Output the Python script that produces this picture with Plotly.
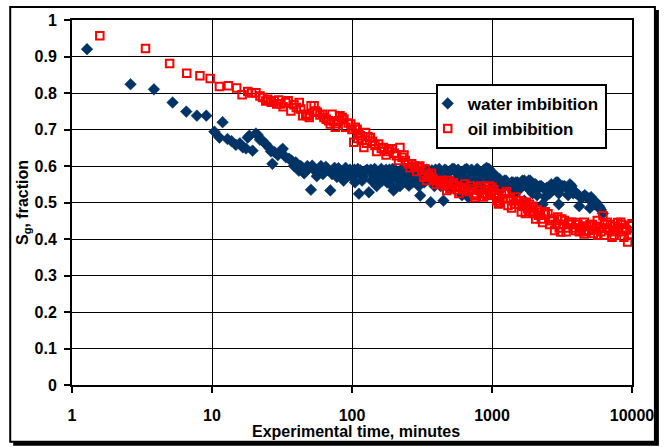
import plotly.graph_objects as go

# ---------------- data ----------------
water_t = [1.28, 2.62, 3.85, 5.23, 6.55, 7.8, 9.1, 10.4, 11.3, 11.9, 12.9, 13.8, 14.8, 15.8,
           16.6, 17.5, 18.0, 18.5, 19.5, 20.6, 21.2, 22.0, 23.0, 24.2, 25.6, 26.4, 27.0, 28.0,
           29.5, 31.0, 32.0, 33.7, 35.5, 37.0, 38.5, 39.7, 41.0, 41.8, 43.0, 44.0, 45.5, 46.7,
           48.0, 50.9, 52.0, 54.0, 56.0, 58.0, 60.0, 62.0, 65.0, 67.0, 70.0, 72.0, 75.0, 78.0,
           80.0, 84.0, 87.0, 90.0, 94.0, 97.0, 100, 104, 108, 112, 115, 120, 125, 132, 136, 142,
           148, 155, 162, 170, 178, 185, 192, 198, 205, 215, 225, 235, 245, 255, 265, 275, 285,
           295, 307, 320, 335, 350, 365, 380, 395, 410, 430, 450, 470, 490, 510, 535, 560, 585,
           610, 640, 680, 700, 730, 770, 800, 840, 880, 915, 1000, 1050, 1100, 1150, 1230, 1300,
           1380, 1450, 1520, 1600, 1700, 1800, 1870, 1950, 2050, 2150, 2250, 2400, 2500, 2650,
           2750, 2870, 3000, 3200, 3400, 3600, 3800, 4000, 4300, 4600, 4900, 5100, 5400, 5700,
           5900, 6200,
           105, 110, 118, 128, 138, 145, 150, 158, 165, 175, 182, 188, 195, 210, 220, 230, 240,
           250, 260, 270, 280, 290, 300, 315, 328, 342, 358, 372, 388, 402, 420, 440, 460, 480,
           500, 520, 548, 572, 598, 625, 660, 690, 715, 750, 785, 820, 860, 900, 950, 980,
           1020, 1080, 1130, 1190, 1260, 1340, 1410, 1480, 1560, 1650, 1750, 1830, 1900, 2000,
           2100, 2200, 2320, 2450, 2580, 2700, 2820, 2950, 3100, 3300, 3500, 3700, 3900, 4150,
           4450, 4750, 5000, 5250, 5550, 5800, 6000, 1700, 2300, 3000, 4200, 5000]
water_sg = [0.920, 0.824, 0.810, 0.774, 0.749, 0.738, 0.738, 0.694, 0.678, 0.720, 0.674, 0.668,
            0.658, 0.662, 0.651, 0.648, 0.678, 0.683, 0.642, 0.689, 0.685, 0.672, 0.669, 0.660,
            0.650, 0.640, 0.606, 0.638, 0.630, 0.642, 0.647, 0.624, 0.620, 0.615, 0.600, 0.610,
            0.595, 0.587, 0.600, 0.596, 0.580, 0.585, 0.600, 0.535, 0.601, 0.588, 0.572, 0.587,
            0.600, 0.578, 0.598, 0.590, 0.533, 0.578, 0.595, 0.570, 0.594, 0.585, 0.560, 0.595,
            0.575, 0.590, 0.569, 0.590, 0.580, 0.524, 0.588, 0.570, 0.587, 0.528, 0.590, 0.575,
            0.588, 0.565, 0.592, 0.580, 0.555, 0.590, 0.570, 0.533, 0.588, 0.560, 0.590, 0.575,
            0.588, 0.546, 0.570, 0.592, 0.585, 0.560, 0.519, 0.588, 0.570, 0.588, 0.501, 0.560,
            0.590, 0.575, 0.545, 0.505, 0.588, 0.565, 0.540, 0.592, 0.580, 0.555, 0.520, 0.590,
            0.514, 0.570, 0.545, 0.588, 0.575, 0.540, 0.590, 0.595, 0.575, 0.550, 0.560, 0.535,
            0.560, 0.550, 0.555, 0.525, 0.555, 0.545, 0.560, 0.540, 0.560, 0.525, 0.550, 0.540,
            0.545, 0.515, 0.540, 0.550, 0.535, 0.555, 0.525, 0.545, 0.540, 0.550, 0.525, 0.525,
            0.515, 0.520, 0.510, 0.515, 0.495, 0.490, 0.485, 0.470,
            0.555, 0.592, 0.560, 0.590, 0.560, 0.592, 0.545, 0.585, 0.560, 0.590, 0.575, 0.550,
            0.592, 0.580, 0.545, 0.585, 0.560, 0.590, 0.580, 0.555, 0.575, 0.592, 0.545, 0.575,
            0.555, 0.590, 0.575, 0.588, 0.545, 0.585, 0.592, 0.565, 0.590, 0.545, 0.585, 0.592,
            0.560, 0.590, 0.575, 0.560, 0.592, 0.545, 0.590, 0.560, 0.592, 0.560, 0.585, 0.570,
            0.592, 0.560,
            0.580, 0.560, 0.565, 0.545, 0.560, 0.540, 0.555, 0.555, 0.535, 0.560, 0.545, 0.560,
            0.545, 0.550, 0.520, 0.545, 0.540, 0.540, 0.525, 0.545, 0.540, 0.555, 0.540, 0.545,
            0.520, 0.545, 0.530, 0.520, 0.515, 0.515, 0.510, 0.505, 0.500, 0.490, 0.480, 0.505,
            0.495, 0.495, 0.490, 0.485]

oil_t = [1.58, 3.35, 4.98, 6.6, 8.2, 9.7, 11.3, 13.1, 15.0, 16.4, 18.0, 19.2, 20.6, 22.0, 23.0,
         24.2, 25.0, 26.5, 27.8, 29.0, 30.0, 31.0, 32.2, 33.6, 35.0, 36.6, 38.5, 40.0, 42.0,
         43.0, 44.4, 46.7, 48.0, 49.5, 51.0, 53.6, 55.0, 56.5, 59.0, 61.5, 63.0, 65.5, 68.0,
         70.0, 72.0, 74.0, 76.0, 78.0, 80.0, 82.0, 85.0, 87.5, 90.0, 94.0, 98.0, 100, 103,
         105.5, 108.8, 112, 115, 118, 121.5, 125, 130, 135, 140, 146, 155, 162, 168, 180, 192,
         200, 208, 220, 228, 240, 252, 267, 280, 298, 315, 325, 333, 350, 362, 380, 392, 410,
         425, 440, 460, 475, 490, 515, 543, 565, 590, 615, 640, 680, 718, 740, 755, 790, 817,
         850, 890, 940, 990, 1000, 1050, 1100, 1110, 1170, 1230, 1300, 1350, 1420, 1480, 1540,
         1620, 1700, 1760, 1800, 1850, 1920, 2000, 2100, 2200, 2250, 2350, 2510, 2650, 2800,
         2950, 3100, 3200, 3300, 3450, 3600, 3700, 3950, 4100, 4300, 4550, 4560, 4750, 4900,
         5200, 5400, 5650, 5700, 5900, 6200, 6400, 6650, 6900, 7200, 7300, 7600, 7900, 8300,
         8600, 8900, 9300, 9500, 9700, 9900, 10000,
         110, 127, 150, 175, 185, 215, 235, 260, 290, 305, 340, 370, 400, 450, 500, 530, 580,
         630, 700, 770, 830, 870, 920, 960, 1030, 1080, 1140, 1200, 1270, 1380, 1450, 1580,
         1650, 1730, 1880, 1960, 2050, 2150, 2300, 2400, 2580, 2720, 2870, 3020, 3150, 3380,
         3520, 3800, 4000, 4200, 4450, 4650, 5000, 5300, 5550, 6000, 6300, 6550, 7000, 7450,
         8000, 8450, 8750, 9100]
oil_sg = [0.957, 0.922, 0.881, 0.854, 0.847, 0.840, 0.818, 0.820, 0.814, 0.795, 0.804, 0.800,
          0.801, 0.792, 0.788, 0.778, 0.783, 0.775, 0.779, 0.770, 0.781, 0.770, 0.762, 0.774,
          0.779, 0.751, 0.768, 0.760, 0.774, 0.756, 0.738, 0.742, 0.738, 0.733, 0.765, 0.765,
          0.751, 0.747, 0.740, 0.742, 0.733, 0.728, 0.724, 0.715, 0.742, 0.722, 0.706, 0.716,
          0.724, 0.738, 0.733, 0.729, 0.706, 0.718, 0.715, 0.700, 0.665, 0.706, 0.701, 0.690,
          0.683, 0.670, 0.651, 0.692, 0.680, 0.678, 0.668, 0.656, 0.660, 0.648, 0.651, 0.640,
          0.647, 0.635, 0.628, 0.651, 0.624, 0.615, 0.606, 0.606, 0.600, 0.596, 0.588, 0.569,
          0.592, 0.575, 0.569, 0.565, 0.560, 0.560, 0.555, 0.550, 0.545, 0.533, 0.560, 0.550,
          0.546, 0.535, 0.542, 0.540, 0.551, 0.530, 0.537, 0.525, 0.514, 0.540, 0.533, 0.525,
          0.524, 0.535, 0.528, 0.542, 0.520, 0.514, 0.496, 0.525, 0.524, 0.492, 0.510, 0.505,
          0.515, 0.496, 0.474, 0.500, 0.501, 0.483, 0.495, 0.487, 0.470, 0.480, 0.474, 0.455,
          0.468, 0.469, 0.450, 0.423, 0.460, 0.419, 0.440, 0.451, 0.430, 0.440, 0.446, 0.423,
          0.440, 0.430, 0.414, 0.446, 0.435, 0.423, 0.440, 0.425, 0.451, 0.410, 0.430, 0.464,
          0.440, 0.446, 0.425, 0.405, 0.420, 0.435, 0.445, 0.446, 0.420, 0.430, 0.392, 0.410,
          0.436, 0.410, 0.442,
          0.675, 0.662, 0.640, 0.630, 0.645, 0.615, 0.630, 0.595, 0.585, 0.600, 0.560, 0.580,
          0.550, 0.560, 0.538, 0.555, 0.525, 0.535, 0.545, 0.520, 0.545, 0.515, 0.520, 0.545,
          0.535, 0.505, 0.500, 0.510, 0.530, 0.485, 0.495, 0.505, 0.490, 0.470, 0.475, 0.490,
          0.455, 0.465, 0.445, 0.475, 0.440, 0.455, 0.440, 0.430, 0.455, 0.420, 0.445, 0.430,
          0.445, 0.420, 0.435, 0.420, 0.440, 0.415, 0.435, 0.420, 0.410, 0.430, 0.440, 0.410,
          0.430, 0.440, 0.405, 0.425]

x_tick_vals = [1, 10, 100, 1000, 10000]
x_tick_text = ["1", "10", "100", "1000", "10000"]
y_tick_vals = [0, 0.1, 0.2, 0.3, 0.4, 0.5, 0.6, 0.7, 0.8, 0.9, 1.0]
y_tick_text = ["0", "0.1", "0.2", "0.3", "0.4", "0.5", "0.6", "0.7", "0.8", "0.9", "1"]
x_title = "Experimental time, minutes"
y_title = "S<sub>g</sub>, fraction"

# ---------------- layout geometry ----------------
W, H = 666, 447
L, R, T, B = 72, 32, 19, 62
PW, PH = W - L - R, H - T - B

def px(xp):
    return (xp - L) / PW

def py(yp):
    return (H - B - yp) / PH

FONT = "Liberation Sans, Arial, sans-serif"
BLUE = "#003366"
RED = "#ff0000"

fig = go.Figure()
fig.add_trace(go.Scatter(
    x=water_t, y=water_sg, mode="markers", name="water imbibition",
    legendgroup="w",
    marker=dict(symbol="diamond", size=9, color=BLUE, line=dict(width=0.5, color=BLUE)),
))
fig.add_trace(go.Scatter(
    x=oil_t, y=oil_sg, mode="markers", name="oil imbibition",
    legendgroup="o",
    marker=dict(symbol="square-open", size=7.5, color=RED, line=dict(width=2, color=RED)),
))

shapes = [
    # outer frame shadow
    dict(type="rect", xref="paper", yref="paper", x0=px(13), x1=px(661), y0=py(446), y1=py(9),
         fillcolor="black", line=dict(width=0), layer="below"),
    # outer frame
    dict(type="rect", xref="paper", yref="paper", x0=px(10), x1=px(657), y0=py(442), y1=py(6),
         fillcolor="white", line=dict(width=2, color="black"), layer="below"),
    # legend shadow
    dict(type="rect", xref="paper", yref="paper", x0=px(440), x1=px(608), y0=py(142), y1=py(86),
         fillcolor="black", line=dict(width=0), layer="above"),
]

axis_common = dict(
    showline=True, linecolor="black", linewidth=2, mirror=True,
    showgrid=True, gridcolor="black", gridwidth=1,
    ticks="outside", ticklen=6, tickwidth=2, tickcolor="black",
    zeroline=False,
    tickfont=dict(family=FONT, size=16, color="black", weight="bold"),
)

fig.update_layout(
    width=W, height=H,
    margin=dict(l=L, r=R, t=T, b=B, pad=0),
    paper_bgcolor="white", plot_bgcolor="rgba(0,0,0,0)",
    showlegend=True,
    legend=dict(
        x=px(437), y=py(83), xanchor="left", yanchor="top",
        bgcolor="white", bordercolor="black", borderwidth=2,
        font=dict(family=FONT, size=17, color="black", weight="bold"),
        tracegroupgap=0, itemwidth=30, indentation=-10,
    ),
    shapes=shapes,
    annotations=[
        dict(text=x_title, xref="paper", yref="paper", x=px(357), y=py(432),
             xanchor="center", yanchor="middle", showarrow=False,
             font=dict(family=FONT, size=16, color="black", weight="bold")),
    ],
    xaxis=dict(
        type="log", range=[0, 4],
        tickmode="array", tickvals=x_tick_vals, ticktext=x_tick_text,
        ticklabelstandoff=9,
        **axis_common,
    ),
    yaxis=dict(
        range=[0, 1],
        tickmode="array", tickvals=y_tick_vals, ticktext=y_tick_text,
        ticklabelstandoff=4,
        title=dict(text=y_title, standoff=2,
                   font=dict(family=FONT, size=16, color="black", weight="bold")),
        **axis_common,
    ),
)

fig.write_html("out.html")
